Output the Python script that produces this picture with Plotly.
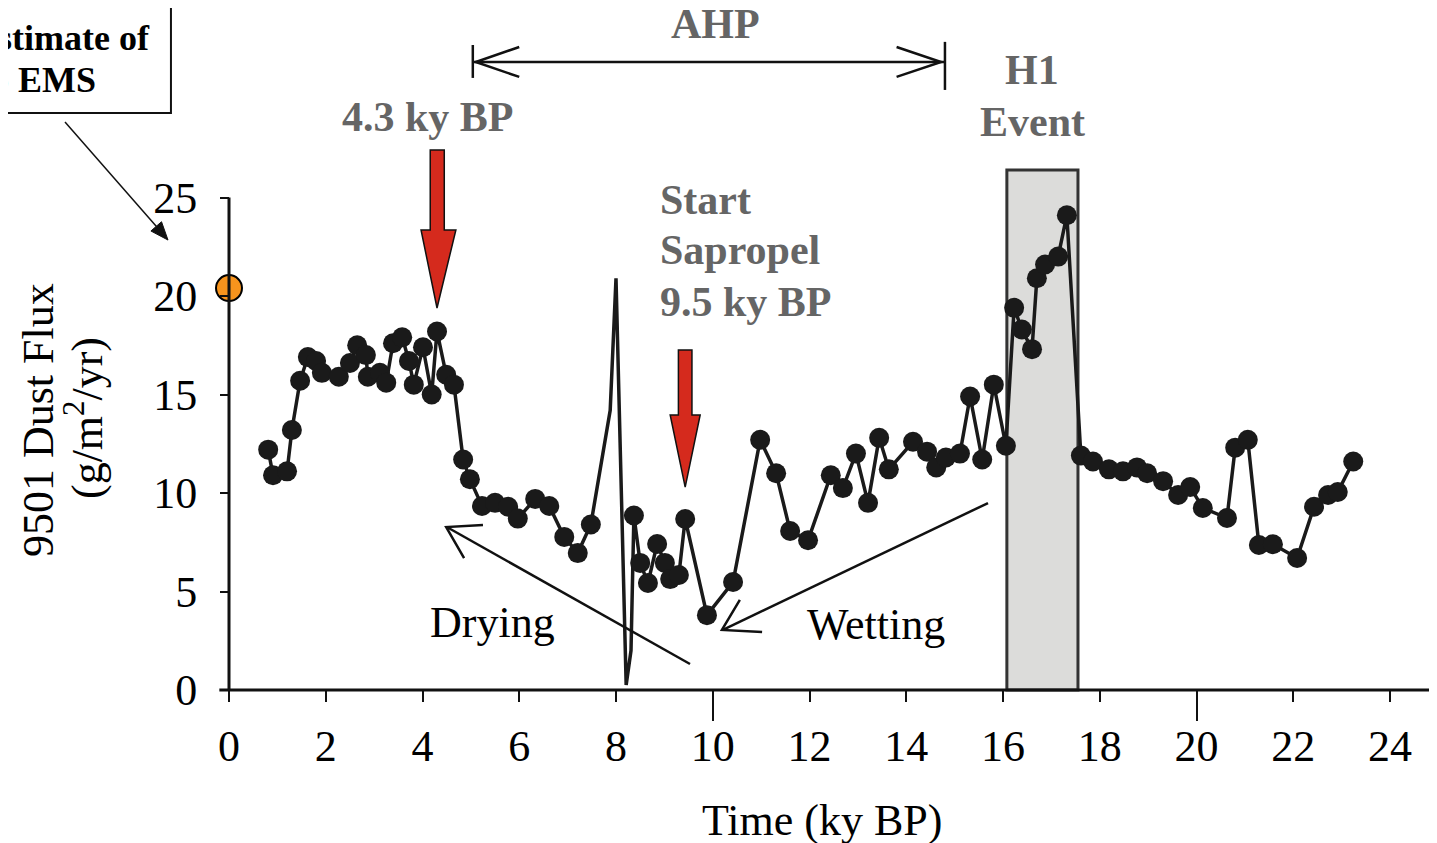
import plotly.graph_objects as go

# ---------------- data ----------------
time_ky = [0.81, 0.91, 1.20, 1.30, 1.47, 1.63, 1.80, 1.92, 2.27, 2.50, 2.65, 2.83, 2.87, 3.12,
           3.25, 3.39, 3.58, 3.72, 3.82, 4.01, 4.19, 4.30, 4.49, 4.65, 4.84, 4.98, 5.23, 5.50,
           5.77, 5.97, 6.33, 6.62, 6.93, 7.21, 7.48,
           8.37, 8.50, 8.66, 8.85, 9.01, 9.12, 9.30, 9.43, 9.88, 10.42, 10.98, 11.31, 11.60,
           11.97, 12.44, 12.69, 12.96, 13.21, 13.44, 13.64, 14.14, 14.43, 14.62, 14.82, 15.11,
           15.32, 15.57, 15.81, 16.06, 16.23, 16.39, 16.60, 16.70, 16.87, 17.14, 17.32, 17.61,
           17.86, 18.19, 18.48, 18.77, 18.98, 19.31, 19.62, 19.87, 20.13, 20.63, 20.80, 21.06,
           21.29, 21.58, 22.08, 22.43, 22.72, 22.92, 23.24]
dust_flux = [12.2, 10.9, 11.1, 13.2, 15.7, 16.9, 16.7, 16.1, 15.9, 16.6, 17.5, 17.0, 15.9, 16.1,
             15.6, 17.6, 17.9, 16.7, 15.5, 17.4, 15.0, 18.2, 16.0, 15.5, 11.7, 10.7, 9.34, 9.5,
             9.3, 8.7, 9.7, 9.34, 7.77, 6.95, 8.4,
             8.86, 6.45, 5.43, 7.41, 6.45, 5.63, 5.84, 8.68, 3.8, 5.48, 12.7, 11.0, 8.07,
             7.6, 10.9, 10.25, 12.0, 9.5, 12.8, 11.2, 12.6, 12.1, 11.3, 11.8, 12.0,
             14.9, 11.7, 15.5, 12.4, 19.4, 18.3, 17.3, 20.9, 21.6, 22.0, 24.1, 11.9,
             11.6, 11.2, 11.1, 11.3, 11.0, 10.6, 9.9, 10.3, 9.24, 8.73, 12.3, 12.7,
             7.36, 7.4, 6.7, 9.3, 9.9, 10.05, 11.6]
# line excursion drawn between the 7.48 and 8.37 ky samples
spike_x = [7.88, 8.00, 8.21, 8.31]
spike_y = [14.2, 20.9, 0.25, 2.0]
spike_after_index = 34

ems_x = [0.0]
ems_y = [20.4]

x_ticks = [0, 2, 4, 6, 8, 10, 12, 14, 16, 18, 20, 22, 24]
y_ticks = [0, 5, 10, 15, 20, 25]
long_x_ticks = [10, 20]
h1_start, h1_end = 16.08, 17.55

SERIF = "Liberation Serif, Times New Roman, serif"
GRAY = "#656565"
RED = "#d52a1d"
INK = "#111111"

line_x = time_ky[:spike_after_index + 1] + spike_x + time_ky[spike_after_index + 1:]
line_y = dust_flux[:spike_after_index + 1] + spike_y + dust_flux[spike_after_index + 1:]

fig = go.Figure()
fig.add_trace(go.Scatter(x=line_x, y=line_y, mode="lines",
                         line=dict(color="#1a1a1a", width=3.5), hoverinfo="skip", showlegend=False))
fig.add_trace(go.Scatter(x=time_ky, y=dust_flux, mode="markers",
                         marker=dict(color="#1a1a1a", size=20), name="9501 dust flux", showlegend=False))
fig.add_trace(go.Scatter(x=ems_x, y=ems_y, mode="markers", xaxis="x2",
                         marker=dict(color="#f7941d", size=26, line=dict(color="black", width=2)),
                         showlegend=False, cliponaxis=False))

shapes = []
def seg(x0, y0, x1, y1, w=2.5):
    shapes.append(dict(type="line", xref="x", yref="y", x0=x0, y0=y0, x1=x1, y1=y1,
                       line=dict(color=INK, width=w)))

def path(p, w=2.5, fill=None):
    d = dict(type="path", xref="x", yref="y", path=p, line=dict(color=INK, width=w))
    if fill:
        d["fillcolor"] = fill
    shapes.append(d)

# H1 event box
shapes.append(dict(type="rect", xref="x", yref="y", x0=h1_start, x1=h1_end, y0=0, y1=26.4,
                   fillcolor="#dcdcda", line=dict(color="#333333", width=3), layer="below"))
# axis lines
seg(-0.2, 0, 25.2, 0, w=3)
seg(0, 0, 0, 25, w=3)
# AHP double arrow
seg(5.04, 31.88, 14.8, 31.88)
seg(5.04, 31.07, 5.04, 32.74)
seg(14.8, 30.46, 14.8, 32.9)
path("M 6.0,32.64 L 5.1,31.88 L 6.0,31.12")
path("M 13.8,32.64 L 14.72,31.88 L 13.8,31.12")
# red arrows
path("M 4.16,27.41 L 4.45,27.41 L 4.45,23.35 L 4.69,23.35 L 4.30,19.39 L 3.97,23.35 L 4.16,23.35 Z",
     w=1.5, fill=RED)
path("M 9.29,17.26 L 9.57,17.26 L 9.57,13.96 L 9.74,13.96 L 9.43,10.3 L 9.12,13.96 L 9.29,13.96 Z",
     w=1.5, fill=RED)
# Drying arrow
seg(9.53, 1.32, 4.52, 8.25)
path("M 5.25,8.38 L 4.49,8.27 L 4.86,6.70")
# Wetting arrow
seg(15.69, 9.49, 10.22, 3.07)
path("M 11.02,2.94 L 10.19,3.05 L 10.56,4.57")
# top-left label box and its pointer
shapes.append(dict(type="rect", xref="x", yref="y", x0=-4.95, x1=-1.20, y0=29.29, y1=34.87,
                   line=dict(color=INK, width=2), fillcolor="rgba(0,0,0,0)"))
seg(-3.39, 28.83, -1.50, 23.53, w=1.5)
path("M -1.261,22.84 L -1.614,23.30 L -1.395,23.77 Z", w=1, fill=INK)

ann = []
def txt(x, y, s, size=44, color="black", bold=False, xanchor="center", **kw):
    ann.append(dict(x=x, y=y, xref=kw.pop("xref", "x"), yref=kw.pop("yref", "y"),
                    text=f"<b>{s}</b>" if bold else s, showarrow=False,
                    xanchor=xanchor, yanchor="middle",
                    font=dict(family=SERIF, size=size, color=color), **kw))

txt(10.05, 33.8, "AHP", size=42, color=GRAY, bold=True)
txt(4.11, 29.09, "4.3 ky BP", size=42, color=GRAY, bold=True)
txt(8.87, 24.87, "Start", size=42, color=GRAY, bold=True, xanchor="left")
txt(8.87, 22.34, "Sapropel", size=42, color=GRAY, bold=True, xanchor="left")
txt(8.87, 19.70, "9.5 ky BP", size=42, color=GRAY, bold=True, xanchor="left")
txt(16.6, 31.47, "H1", size=42, color=GRAY, bold=True)
txt(16.6, 28.83, "Event", size=42, color=GRAY, bold=True)
txt(5.44, 3.45, "Drying", size=44)
txt(13.37, 3.30, "Wetting", size=44)
txt(-1.59, 33.1, "Estimate of", size=36, bold=True, xanchor="right")
txt(-2.71, 30.96, "to EMS", size=36, bold=True, xanchor="right")
txt(-3.95, 13.7, "9501 Dust Flux", size=44, textangle=-90)
txt(-3.0, 13.8, "(g/m<sup>2</sup>/yr)", size=44, textangle=-90)

# page body has an 8px margin: build the figure 8px smaller and shifted
FIG_W, FIG_H = 1429, 835
ORIGIN_X = 221          # figure pixel of x = 0
ORIGIN_Y = 682          # figure pixel of y = 0
MARGIN_B = 123
plot_h = FIG_H - MARGIN_B
ppu_y = 19.7
ppu_x = 48.375

txt(12.26, (plot_h - 812) / plot_h, "Time (ky BP)", size=44, yref="paper")

axis_pos = (plot_h - ORIGIN_Y) / plot_h
fig.update_layout(
    width=FIG_W, height=FIG_H,
    margin=dict(l=0, r=0, t=0, b=MARGIN_B),
    paper_bgcolor="white", plot_bgcolor="white",
    showlegend=False,
    shapes=shapes, annotations=ann,
    xaxis=dict(range=[-ORIGIN_X / ppu_x, (FIG_W - ORIGIN_X) / ppu_x], anchor="free",
               position=axis_pos,
               tickvals=x_ticks, ticks="outside", ticklen=11, tickwidth=2, tickcolor=INK,
               tickfont=dict(family=SERIF, size=44, color="black"), ticklabelstandoff=6,
               showgrid=False, zeroline=False, showline=False),
    xaxis2=dict(overlaying="x", matches="x", anchor="free", position=axis_pos,
                side="bottom", tickvals=long_x_ticks, ticks="outside", ticklen=30, tickwidth=2,
                tickcolor=INK, showticklabels=False, showgrid=False, zeroline=False,
                showline=False),
    yaxis=dict(range=[-(plot_h - ORIGIN_Y) / ppu_y, ORIGIN_Y / ppu_y], anchor="free",
               position=ORIGIN_X / FIG_W,
               tickvals=y_ticks, ticks="outside", ticklen=9, tickwidth=2, tickcolor=INK,
               tickfont=dict(family=SERIF, size=44, color="black"), ticklabelstandoff=14,
               showgrid=False, zeroline=False, showline=False),
)

fig.write_html("out.html")
